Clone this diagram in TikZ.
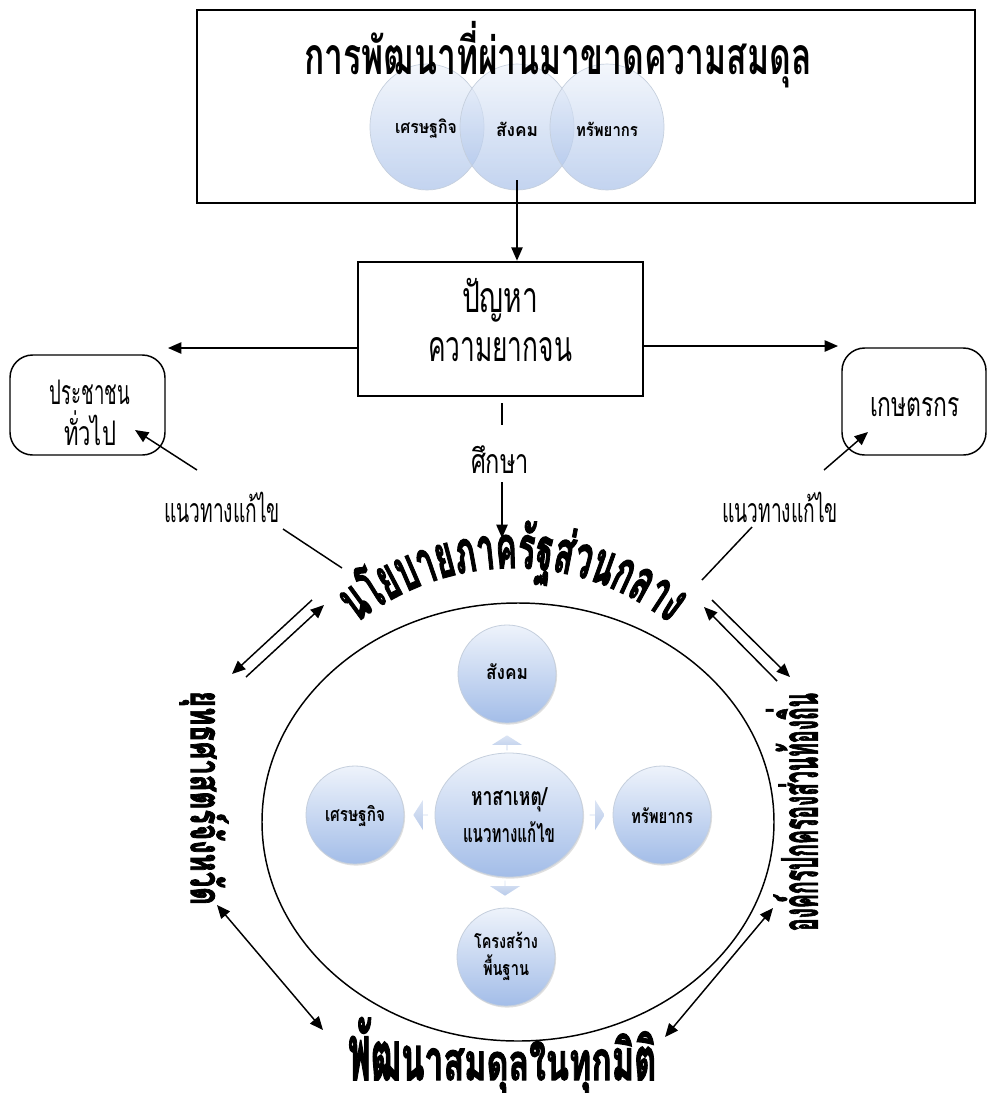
\documentclass[tikz,border=0pt]{standalone}
\usepackage{fontspec}
\usepackage{graphicx}
\usetikzlibrary{arrows.meta,shapes.geometric,shapes.arrows,shadows}
\newfontfamily\thaireg[Script=Thai]{Loma}
\newfontfamily\thaiheavy[Script=Thai,FakeBold=2,BoldFeatures={FakeBold=2.5}]{Loma}
\newcommand\fr{\thaireg\fontsize{20pt}{24pt}\selectfont}
\newcommand\fb{\thaireg\bfseries\fontsize{20pt}{24pt}\selectfont}
\newcommand\fh{\thaiheavy\bfseries\fontsize{20pt}{24pt}\selectfont}
\definecolor{cT}{HTML}{EEF3FB}
\definecolor{cB}{HTML}{A3BDE8}
\definecolor{cE}{HTML}{C5CFDD}
\definecolor{cA}{HTML}{B9CBEA}
\newsavebox\tbox
\newlength\txw \newlength\txh \newlength\cumw \newlength\clw \newlength\clh
\newcommand\measure[1]{\pgfinterruptpicture\sbox\tbox{#1}\global\clw=\wd\tbox\global\clh=\ht\tbox\endpgfinterruptpicture}
\newcommand\fitt[4]{%
  \sbox\tbox{#1#4}\setlength\txw{\wd\tbox}%
  \sbox\tbox{#1น}\setlength\txh{\ht\tbox}%
  \pgfmathsetmacro\fsx{#2*0.75/\txw}%
  \pgfmathsetmacro\fsy{#3*0.75/\txh}%
  \scalebox{\fsx}[\fsy]{#1#4}}
\newcommand\arctext[7]{%
  \measure{\fh น}\setlength\txh{\clh}%
  \global\txw=0pt\relax
  \foreach \c in {#7}{\measure{\fh\c}\global\advance\txw by \clw}%
  \pgfmathsetmacro\asx{#5*0.75/\txw}%
  \pgfmathsetmacro\asy{#6*0.75/\txh}%
  \global\cumw=0pt\relax
  \foreach \c [count=\i] in {#7}{%
    \measure{\scalebox{\asx}[\asy]{\fh\c}}%
    \pgfmathsetmacro\ang{deg((\cumw+0.5*\clw-0.5*#5*0.75)/(#4*0.75))}%
    \node[inner sep=0pt, anchor=base, rotate=-\ang] (#1\i) at ({#2+#4*sin(\ang)},{#3-#4*cos(\ang)}) {\scalebox{\asx}[\asy]{\fh\c}};
    \global\advance\cumw by \clw
  }}
% name, xcenter, baseline, length, left h, mid h, right h, list
\newcommand\flattext[8]{%
  \measure{\fh น}\setlength\txh{\clh}%
  \global\txw=0pt\relax
  \foreach \c in {#8}{\measure{\fh\c}\global\advance\txw by \clw}%
  \pgfmathsetmacro\asx{#4*0.75/\txw}%
  \global\cumw=0pt\relax
  \foreach \c [count=\i] in {#8}{%
    \measure{\scalebox{\asx}{\fh\c}}%
    \pgfmathsetmacro\tpos{(\cumw+0.5*\clw)/(#4*0.75)}%
    \pgfmathsetmacro\hgt{\tpos<0.5 ? #6+(#5-#6)*(1-2*\tpos)^2 : #6+(#7-#6)*(2*\tpos-1)^2}%
    \pgfmathsetmacro\bsy{\hgt*0.75/\txh}%
    \pgfmathsetmacro\bx{#2-0.5*#4+\cumw/0.75}%
    \node[inner sep=0pt, anchor=base west] (#1\i) at (\bx,#3) {\scalebox{\asx}[\bsy]{\fh\c}};
    \global\advance\cumw by \clw
  }}
\begin{document}
\begin{tikzpicture}[x=0.75pt,y=-0.75pt,
  ln/.style={line width=1.1pt},
  tip/.style={-{Triangle[length=10pt,width=8.5pt]}},
  dtip/.style={{Triangle[length=10pt,width=8.5pt]}-{Triangle[length=10pt,width=8.5pt]}},
  txt/.style={inner sep=0pt},
  venn/.style={ellipse, draw=cE, line width=0.5pt, top color=cT, bottom color=cB, fill opacity=0.65, minimum width=114*0.75pt, minimum height=126*0.75pt},
  sa/.style={circle, draw=cE, line width=0.6pt, top color=cT, bottom color=cB, minimum size=98*0.75pt, drop shadow={shadow xshift=0.8pt,shadow yshift=-1.2pt,opacity=0.25}},
  barrow/.style={single arrow, draw=none, top color=cA!50!white, bottom color=cA, single arrow tip angle=115, single arrow head extend=6pt, minimum width=30*0.75pt, minimum height=15*0.75pt, inner sep=0pt}
]
\useasboundingbox (0,0) rectangle (987,1093);
\fill[white] (0,0) rectangle (987,1093);

% top box
\node[draw, line width=0.9pt, minimum width=778*0.75pt, minimum height=193*0.75pt, inner sep=0pt] (topbox) at (586,106.5) {};
\node[venn] (v1) at (427,127) {};
\node[venn] (v2) at (517,127) {};
\node[venn] (v3) at (607,127) {};
\node[txt] (v1t) at (426,129) {\fitt{\fb}{62}{10}{เศรษฐกิจ}};
\node[txt] (v2t) at (517,129) {\fitt{\fb}{42}{10}{สังคม}};
\node[txt] (v3t) at (607,129) {\fitt{\fb}{62}{10}{ทรัพยากร}};
\node[txt] (title) at (558,55) {\fitt{\fb}{507}{29}{การพัฒนาที่ผ่านมาขาดความสมดุล}};

% problem box
\node[draw, line width=2pt, minimum width=285*0.75pt, minimum height=134*0.75pt, inner sep=0pt] (prob) at (500.5,329) {};
\node[txt] (p1) at (500,300) {\fitt{\fr}{76}{24}{ปัญหา}};
\node[txt] (p2) at (500,350) {\fitt{\fr}{144}{24}{ความยากจน}};
\coordinate (vs) at (517,180);
\draw[ln,tip] (vs) -- (vs |- prob.north);

% side boxes
\coordinate (la) at (168,348);
\coordinate (ra) at (838,346);
\draw[ln,tip] (prob.west |- la) -- (la);
\draw[ln,tip] (prob.east |- ra) -- (ra);
\node[draw, rounded corners=17pt, line width=1.1pt, minimum width=155*0.75pt, minimum height=100*0.75pt] (pub) at (87.5,405) {};
\node[txt] (pub1) at (90,392) {\fitt{\fr}{80}{19}{ประชาชน}};
\node[txt] (pub2) at (90,428) {\fitt{\fr}{52}{19}{ทั่วไป}};
\node[draw, rounded corners=17pt, line width=1.1pt, minimum width=144*0.75pt, minimum height=107*0.75pt] (farm) at (914,401.5) {};
\node[txt] (farm1) at (915,407) {\fitt{\fr}{90}{19}{เกษตรกร}};

% study
\coordinate (s1) at (502,403);
\coordinate (s2) at (502,425);
\draw[ln] (s1) -- (s2);
\node[txt] (study) at (500,460) {\fitt{\fr}{58}{19}{ศึกษา}};
\coordinate (s3) at (502,482);
\coordinate (s4) at (502,538);
\draw[ln,tip] (s3) -- (s4);

% solutions
\node[txt] (solL) at (222,507) {\fitt{\fr}{116}{19}{แนวทางแก้ไข}};
\node[txt] (solR) at (780,507) {\fitt{\fr}{116}{19}{แนวทางแก้ไข}};
\coordinate (aL1) at (197,470); \coordinate (aL2) at (135,430);
\coordinate (aR1) at (824,470); \coordinate (aR2) at (868,432);
\draw[ln,tip] (aL1) -- (aL2);
\draw[ln,tip] (aR1) -- (aR2);
\coordinate (bL1) at (283,529); \coordinate (bL2) at (342,568);
\coordinate (bR1) at (752,527); \coordinate (bR2) at (702,580);
\draw[ln] (bL1) -- (bL2);
\draw[ln] (bR1) -- (bR2);

% central policy (arched)
\arctext{pol}{513}{818}{250}{338}{33}{น,โ,ย,บ,า,ย,ภ,า,ค,รั,ฐ,ส่,ว,น,ก,ล,า,ง}

% big ellipse
\node[ellipse, draw, line width=1.1pt, minimum width=512*0.75pt, minimum height=438*0.75pt, inner sep=0pt] (big) at (518,822) {};

% smart art
\node[sa] (c1) at (507,674) {};
\node[sa] (c2) at (355,815) {};
\node[sa] (c3) at (662,815) {};
\node[sa] (c4) at (506,957) {};
\node[ellipse, draw=cE, line width=0.6pt, top color=cT, bottom color=cB, minimum width=148*0.75pt, minimum height=124*0.75pt, drop shadow={shadow xshift=0.8pt,shadow yshift=-1.2pt,opacity=0.25}] (cc) at (509,815) {};
\node[barrow, rotate=90] (au) at (507,743) {};
\node[barrow, rotate=180] (al) at (421,815) {};
\node[barrow] (ar) at (597,815) {};
\node[barrow, rotate=-90] (ad) at (505,888) {};
\node[txt] (c1t) at (507,672) {\fitt{\fb}{42}{11}{สังคม}};
\node[txt] (c2t) at (355,816) {\fitt{\fb}{60}{11}{เศรษฐกิจ}};
\node[txt] (c3t) at (662,816) {\fitt{\fb}{62}{11}{ทรัพยากร}};
\node[txt] (cct1) at (509,800) {\fitt{\fb}{76}{14}{หาสาเหตุ/}};
\node[txt] (cct2) at (509,832) {\fitt{\fb}{92}{14}{แนวทางแก้ไข}};
\node[txt] (c4t1) at (506,940) {\fitt{\fb}{64}{11}{โครงสร้าง}};
\node[txt] (c4t2) at (506,968) {\fitt{\fb}{46}{11}{พื้นฐาน}};

% side texts
\node[txt, rotate=-90] (prov) at (204,798) {\fitt{\fh}{214}{24}{ยุทธศาสตร์จังหวัด}};
\node[txt, rotate=90] (local) at (792,812) {\fitt{\fh}{238}{28}{องค์กรปกครองส่วนท้องถิ่น}};

% bottom text
\flattext{bal}{502}{1080}{308}{46}{28}{34}{พั,ฒ,น,า,ส,ม,ดุ,ล,ใ,น,ทุ,ก,มิ,ติ}

% double arrows
\coordinate (t1a) at (312,600); \coordinate (t1b) at (232,674);
\coordinate (t2a) at (246,677); \coordinate (t2b) at (324,605);
\draw[ln,tip] (t1a) -- (t1b);
\draw[ln,tip] (t2a) -- (t2b);
\coordinate (r1a) at (712,600); \coordinate (r1b) at (790,677);
\coordinate (r2a) at (777,681); \coordinate (r2b) at (704,607);
\draw[ln,tip] (r1a) -- (r1b);
\draw[ln,tip] (r2a) -- (r2b);
\coordinate (d1a) at (217,905); \coordinate (d1b) at (323,1030);
\coordinate (d2a) at (665,1037); \coordinate (d2b) at (773,908);
\draw[ln,dtip] (d1a) -- (d1b);
\draw[ln,dtip] (d2a) -- (d2b);
\end{tikzpicture}
\end{document}
